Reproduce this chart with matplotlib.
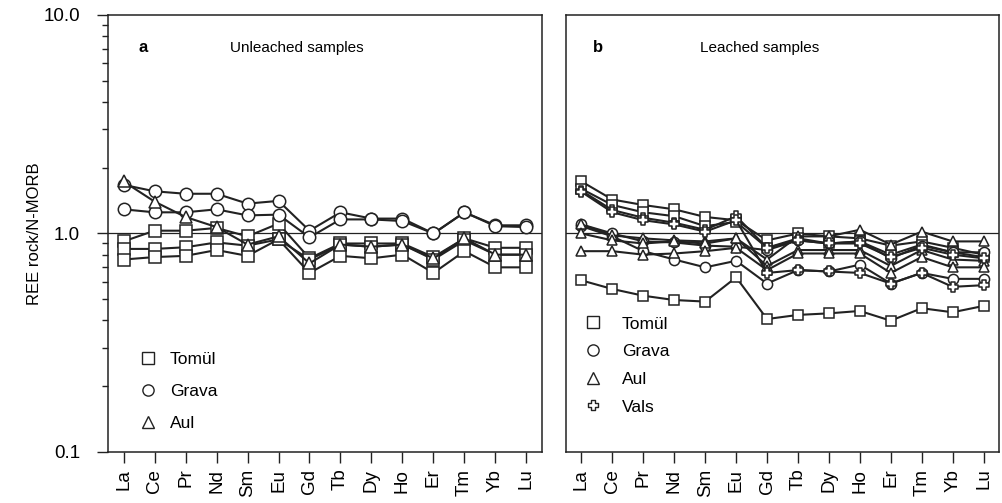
import numpy as np
import matplotlib.pyplot as plt
from matplotlib.lines import Line2D
from matplotlib.path import Path

plt.rcParams['font.family'] = ['Liberation Sans', 'DejaVu Sans']
plt.rcParams['font.size'] = 11

elements = ['La', 'Ce', 'Pr', 'Nd', 'Sm', 'Eu', 'Gd', 'Tb', 'Dy', 'Ho', 'Er', 'Tm', 'Yb', 'Lu']

# panel a: unleached samples
a_tomul = [
    [0.92, 1.03, 1.03, 1.06, 0.97, 1.11, 0.77, 0.90, 0.90, 0.90, 0.78, 0.95, 0.86, 0.86],
    [0.85, 0.85, 0.865, 0.91, 0.88, 0.94, 0.76, 0.89, 0.87, 0.89, 0.76, 0.93, 0.80, 0.80],
    [0.76, 0.78, 0.79, 0.84, 0.79, 0.94, 0.66, 0.79, 0.77, 0.80, 0.66, 0.83, 0.70, 0.70],
]
a_grava = [
    [1.67, 1.56, 1.52, 1.52, 1.37, 1.41, 1.03, 1.25, 1.17, 1.17, 1.00, 1.25, 1.09, 1.09],
    [1.29, 1.25, 1.25, 1.29, 1.21, 1.22, 0.96, 1.16, 1.16, 1.14, 1.00, 1.25, 1.08, 1.07],
]
a_aul = [
    [1.73, 1.40, 1.19, 1.07, 0.89, 0.97, 0.73, 0.89, 0.87, 0.89, 0.77, 0.95, 0.80, 0.80],
]

# panel b: leached samples
b_tomul = [
    [1.73, 1.43, 1.35, 1.29, 1.19, 1.15, 0.93, 1.00, 0.97, 0.95, 0.88, 0.92, 0.86, 0.80],
    [1.60, 1.35, 1.25, 1.20, 1.08, 1.13, 0.86, 0.95, 0.90, 0.92, 0.80, 0.89, 0.82, 0.78],
    [0.61, 0.557, 0.519, 0.496, 0.488, 0.63, 0.406, 0.424, 0.431, 0.442, 0.399, 0.455, 0.436, 0.466],
]
b_grava = [
    [1.08, 0.97, 0.83, 0.76, 0.70, 0.75, 0.59, 0.68, 0.67, 0.72, 0.59, 0.66, 0.62, 0.62],
    [1.10, 1.00, 0.92, 0.91, 0.88, 0.87, 0.84, 0.93, 0.90, 0.92, 0.77, 0.88, 0.82, 0.82],
]
b_aul = [
    [1.10, 0.98, 0.95, 0.93, 0.92, 0.95, 0.76, 0.97, 0.97, 1.04, 0.89, 1.02, 0.92, 0.92],
    [1.00, 0.93, 0.90, 0.92, 0.90, 0.95, 0.71, 0.84, 0.84, 0.84, 0.71, 0.84, 0.76, 0.75],
    [0.83, 0.83, 0.80, 0.81, 0.83, 0.86, 0.68, 0.81, 0.81, 0.81, 0.66, 0.78, 0.70, 0.70],
]
b_vals = [
    [1.57, 1.28, 1.18, 1.12, 1.04, 1.20, 0.86, 0.93, 0.90, 0.90, 0.78, 0.86, 0.80, 0.77],
    [1.55, 1.25, 1.15, 1.10, 1.02, 1.15, 0.66, 0.68, 0.67, 0.66, 0.59, 0.66, 0.57, 0.58],
]

# hollow plus marker
w = 0.35
plus_marker = Path([(-w, 1), (w, 1), (w, w), (1, w), (1, -w), (w, -w), (w, -1),
                    (-w, -1), (-w, -w), (-1, -w), (-1, w), (-w, w), (-w, 1)], closed=True)

ink = '#222222'
x = np.arange(len(elements))

fig = plt.figure(figsize=(10.02, 5.03), dpi=100)
ax1 = fig.add_axes([0.1078, 0.1014, 0.4331, 0.8688])
ax2 = fig.add_axes([0.5649, 0.1014, 0.4321, 0.8688])


def draw(ax, groups, ms):
    for series, marker, m_s in groups:
        for vals in series:
            ax.plot(x, vals, color=ink, lw=1.5, marker=marker, ms=m_s * ms,
                    mfc='white', mec=ink, mew=1.1)


draw(ax1, [(a_tomul, 's', 1.0), (a_grava, 'o', 1.05), (a_aul, '^', 1.1)], 8.5)
draw(ax2, [(b_tomul, 's', 1.0), (b_grava, 'o', 1.05), (b_aul, '^', 1.1),
           (b_vals, plus_marker, 1.1)], 7.0)

for ax in (ax1, ax2):
    ax.set_yscale('log')
    ax.set_ylim(0.1, 10)
    ax.set_xlim(-0.5, 13.5)
    ax.axhline(1.0, color=ink, lw=0.9, zorder=0)
    ax.set_xticks(x)
    ax.set_xticklabels(elements, rotation=90, fontsize=13.5)
    ax.tick_params(axis='x', length=8, width=1, color=ink, pad=4)
    for s in ax.spines.values():
        s.set_color(ink)
        s.set_linewidth(1.1)

ax1.set_yticks([0.1, 1, 10])
ax1.set_yticklabels(['0.1', '1.0', '10.0'], fontsize=13.5)
ax1.tick_params(axis='y', which='major', length=8, width=1, color=ink, pad=12)
ax1.tick_params(axis='y', which='minor', length=4, width=1, color=ink)
ax1.set_ylabel('REE rock/N-MORB', fontsize=12)
ax1.yaxis.set_label_coords(-0.152, 0.5)
ax2.set_yticks([])
ax2.minorticks_off()
ax2.tick_params(axis='y', which='both', length=0, labelleft=False)

ax1.text(0.07, 0.925, 'a', transform=ax1.transAxes, fontweight='bold', fontsize=12, va='center')
ax1.text(0.281, 0.925, 'Unleached samples', transform=ax1.transAxes, fontsize=11, va='center')
ax2.text(0.062, 0.925, 'b', transform=ax2.transAxes, fontweight='bold', fontsize=12, va='center')
ax2.text(0.31, 0.925, 'Leached samples', transform=ax2.transAxes, fontsize=11, va='center')


def handles(items, ms):
    return [Line2D([], [], ls='none', marker=m, ms=ms * f, mfc='white', mec=ink, mew=1.0, label=l)
            for m, f, l in items]


leg1 = ax1.legend(handles=handles([('s', 1.0, 'Tomül'), ('o', 0.95, 'Grava'), ('^', 1.0, 'Aul')], 8.5),
                  loc='lower left', bbox_to_anchor=(0.035, 0.012), frameon=False, fontsize=12.5,
                  labelspacing=0.98, handlelength=1.0, handletextpad=0.8)
leg2 = ax2.legend(handles=handles([('s', 1.0, 'Tomül'), ('o', 0.95, 'Grava'), ('^', 1.0, 'Aul'),
                                   (plus_marker, 0.9, 'Vals')], 8.5),
                  loc='lower left', bbox_to_anchor=(0.005, 0.05), frameon=False, fontsize=12.5,
                  labelspacing=0.72, handlelength=1.0, handletextpad=1.2)

fig.savefig('out.png', dpi=100)
